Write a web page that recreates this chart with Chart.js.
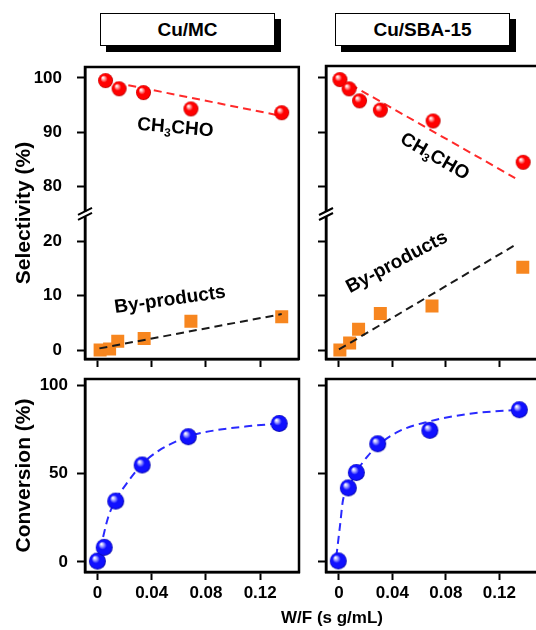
<!DOCTYPE html>
<html>
<head>
<meta charset="utf-8">
<script src="https://cdn.jsdelivr.net/npm/chart.js@4.4.1/dist/chart.umd.min.js"></script>
<style>
  html, body { margin: 0; padding: 0; width: 536px; height: 630px; overflow: hidden; background: #fff; }
  body { position: relative; font-family: Arial, "Liberation Sans", Helvetica, sans-serif; }
  canvas { position: absolute; }
  .tag {
    position: absolute; top: 13px; width: 173px; height: 31px;
    border: 1.5px solid #000; background: #fff; box-shadow: 6px 6px 0 #000;
    font-weight: bold; font-size: 19px; line-height: 31px; text-align: center;
  }
  #xtitle {
    position: absolute; left: 222px; top: 608px; width: 220px;
    font-weight: bold; font-size: 17px; line-height: 20px; text-align: center;
  }
</style>
</head>
<body>
<div class="tag" style="left:100px">Cu/MC</div>
<div class="tag" style="left:335px">Cu/SBA-15</div>

<canvas id="selMC" width="308" height="314" style="left:0px;top:57px;width:308px;height:314px"></canvas>
<canvas id="selSBA" width="240" height="315" style="left:314px;top:56px;width:240px;height:315px"></canvas>
<canvas id="convMC" width="308" height="239" style="left:0px;top:369px;width:308px;height:239px"></canvas>
<canvas id="convSBA" width="240" height="239" style="left:314px;top:369px;width:240px;height:239px"></canvas>

<div id="xtitle">W/F (s g/mL)</div>

<script>
Chart.defaults.font.family = 'Arial, "Liberation Sans", Helvetica, sans-serif';
Chart.defaults.color = '#000';

// axis ticks
const wfTicks = [0, 0.04, 0.08, 0.12];
const wfTickLabels = ['0', '0.04', '0.08', '0.12'];
const selTicks = [0, 10, 20, 80, 90, 100];
const convTicks = [0, 50, 100];

// Cu/MC (W/F in s g/mL, values in %)
const mcSelX = [0.006, 0.016, 0.034, 0.069, 0.136];
const mcAcetaldehyde = [99.5, 98.0, 97.3, 94.3, 93.6];
const mcByX = [0.002, 0.009, 0.015, 0.0345, 0.069, 0.136];
const mcByproducts = [0.0, 0.2, 1.6, 2.1, 5.3, 6.1];
const mcConvX = [0, 0.005, 0.0135, 0.033, 0.067, 0.134];
const mcConversion = [0.5, 8.3, 34.5, 55, 71, 78.5];

// Cu/MC dashed guide lines
const mcAcetFitX = [0.004, 0.136];
const mcAcetFit = [99.6, 93.0];
const mcByFitX = [0.0015, 0.136];
const mcByFit = [0.3, 6.6];
const mcConvFitX = [0.002, 0.008, 0.0135, 0.0225, 0.033, 0.045, 0.06, 0.068, 0.086, 0.112, 0.134];
const mcConvFit = [7, 25.5, 35, 45.5, 55.5, 63, 69, 71.5, 74.5, 77, 78.5];

// Cu/SBA-15
const sbaSelX = [0.0007, 0.0076, 0.0154, 0.031, 0.0705, 0.138];
const sbaAcetaldehyde = [99.7, 98.0, 95.8, 94.1, 92.1, 84.5];
const sbaByX = [0.0007, 0.008, 0.0147, 0.031, 0.0697, 0.1377];
const sbaByproducts = [0.0, 1.3, 3.8, 6.7, 8.1, 15.2];
const sbaConvX = [-0.0005, 0.007, 0.013, 0.029, 0.068, 0.135];
const sbaConversion = [0.6, 42, 50.7, 67, 74.6, 86.3];

// Cu/SBA-15 dashed guide lines
const sbaAcetFitX = [0, 0.132];
const sbaAcetFit = [100, 81.6];
const sbaByFitX = [0, 0.132];
const sbaByFit = [0.1, 19.3];
const sbaConvFitX = [-0.002, 0.0007, 0.003, 0.005, 0.009, 0.013, 0.0215, 0.029, 0.0447, 0.0667, 0.098, 0.135];
const sbaConvFit = [3, 20, 35, 39, 45, 51, 60, 66, 74, 79.5, 84, 86.3];

// broken selectivity axis: everything above the break is drawn 50 lower
const selBreak = 25;
const selShift = 50;
const fold = v => (v > selBreak ? v - selShift : v);

const tickFont = { size: 17, weight: 'bold' };
const titleFont = { size: 21, weight: 'bold' };

function sphere(r, light, base, dark) {
    const c = document.createElement('canvas');
    const s = Math.ceil(r * 2 + 2);
    c.width = c.height = s;
    const g = c.getContext('2d');
    const m = s / 2;
    const grad = g.createRadialGradient(m - r * 0.35, m - r * 0.4, r * 0.05, m, m, r);
    grad.addColorStop(0, '#ffffff');
    grad.addColorStop(0.2, light);
    grad.addColorStop(0.45, base);
    grad.addColorStop(0.85, base);
    grad.addColorStop(1, dark);
    g.fillStyle = grad;
    g.beginPath();
    g.arc(m, m, r, 0, Math.PI * 2);
    g.fill();
    return c;
}
const redBall = sphere(7.5, '#ff9a9a', '#ff0000', '#b00000');
const blueBall = sphere(8.5, '#a0a0ff', '#1010ff', '#0000a0');

const pairs = (xs, ys, folded) => xs.map((x, i) => ({ x: x, y: folded ? fold(ys[i]) : ys[i] }));

const ballSet = (xs, ys, img, folded) => ({
    data: pairs(xs, ys, folded), pointStyle: img, pointRadius: 8, showLine: false
});
const squareSet = (xs, ys) => ({
    data: pairs(xs, ys, false), pointStyle: 'rect', pointRadius: 9.2,
    backgroundColor: '#f7861f', borderColor: '#f7861f', borderWidth: 0, showLine: false
});
const dashSet = (xs, ys, color, folded, smooth) => ({
    data: pairs(xs, ys, folded), showLine: true, pointRadius: 0,
    borderColor: color, borderWidth: 2, borderDash: [8, 5],
    cubicInterpolationMode: smooth ? 'monotone' : 'default'
});

// box round the plot area, plus the // mark on a broken axis
const framePlugin = (breakAt) => ({
    id: 'frame',
    beforeDatasetsDraw(chart) {
        const { ctx, chartArea: a } = chart;
        ctx.save();
        ctx.strokeStyle = '#000';
        ctx.lineWidth = 2.5;
        ctx.strokeRect(a.left, a.top, a.right - a.left, a.bottom - a.top);
        if (breakAt !== undefined) {
            const by = chart.scales.y.getPixelForValue(breakAt);
            ctx.fillStyle = '#fff';
            ctx.fillRect(a.left - 3, by - 2.5, 6, 5);
            ctx.lineWidth = 2;
            [-2.5, 2.5].forEach(d => {
                ctx.beginPath();
                ctx.moveTo(a.left - 7, by + d + 3.5);
                ctx.lineTo(a.left + 7, by + d - 3.5);
                ctx.stroke();
            });
        }
        ctx.restore();
    }
});

// text labels inside the plots
const notesPlugin = (items) => ({
    id: 'notes',
    afterDatasetsDraw(chart) {
        const { ctx } = chart;
        items.forEach(it => {
            const px = chart.scales.x.getPixelForValue(it.x);
            const py = chart.scales.y.getPixelForValue(fold(it.y));
            ctx.save();
            ctx.translate(px, py);
            ctx.rotate(it.rot * Math.PI / 180);
            ctx.fillStyle = '#000';
            ctx.textBaseline = 'middle';
            ctx.textAlign = 'left';
            const parts = it.parts || [[it.text, false]];
            const big = 'bold 19px Arial, "Liberation Sans", sans-serif';
            const small = 'bold 12px Arial, "Liberation Sans", sans-serif';
            let w = 0;
            parts.forEach(p => { ctx.font = p[1] ? small : big; w += ctx.measureText(p[0]).width; });
            let cx = -w / 2;
            parts.forEach(p => {
                ctx.font = p[1] ? small : big;
                ctx.fillText(p[0], cx, p[1] ? 6 : 0);
                cx += ctx.measureText(p[0]).width;
            });
            ctx.restore();
        });
    }
});
const chem = [['CH', false], ['3', true], ['CHO', false]];

function wfScale(min, max, showLabels) {
    return {
        type: 'linear', position: 'bottom', min: min, max: max,
        afterBuildTicks: s => { s.ticks = wfTicks.map(v => ({ value: v })); },
        afterFit: s => {
            s.height = showLabels ? 34 : 10;
            s.paddingLeft = s.paddingRight = s.paddingTop = s.paddingBottom = 0;
        },
        ticks: {
            autoSkip: false, maxRotation: 0, minRotation: 0, padding: 3, font: tickFont, color: '#000',
            callback: (v, i) => (showLabels ? wfTickLabels[i] : '')
        },
        grid: { drawOnChartArea: false, drawTicks: true, tickLength: 8, tickWidth: 2, tickColor: '#000', color: '#000' },
        border: { display: true, color: '#000', width: 2.5 }
    };
}

function yScale(min, max, values, labels, width, pad, title) {
    return {
        type: 'linear', position: 'left', min: min, max: max,
        afterBuildTicks: s => { s.ticks = values.map(v => ({ value: v })); },
        afterFit: s => {
            s.width = width;
            s.paddingLeft = s.paddingRight = s.paddingTop = s.paddingBottom = 0;
        },
        ticks: {
            autoSkip: false, padding: pad, font: tickFont, color: '#000',
            callback: (v, i) => (labels ? labels[i] : '')
        },
        title: title ? { display: true, text: title, font: titleFont, color: '#000', padding: { top: 12, bottom: 0 } } : { display: false },
        grid: { drawOnChartArea: false, drawTicks: true, tickLength: 8, tickWidth: 2, tickColor: '#000', color: '#000' },
        border: { display: true, color: '#000', width: 2.5 }
    };
}

function options(pad, x, y) {
    return {
        responsive: false, animation: false, events: [],
        layout: { padding: pad },
        plugins: { legend: { display: false }, tooltip: { enabled: false } },
        scales: { x: x, y: y }
    };
}

const selValues = selTicks.map(fold);
const selLabels = selTicks.map(String);
const convLabels = convTicks.map(String);

// Cu/MC selectivity
new Chart(document.getElementById('selMC'), {
    type: 'scatter',
    data: { datasets: [
        ballSet(mcSelX, mcAcetaldehyde, redBall, true),
        dashSet(mcByFitX, mcByFit, '#1a1a1a', false, false),
        squareSet(mcByX, mcByproducts),
        dashSet(mcAcetFitX, mcAcetFit, '#ff2a2a', true, false)
    ] },
    options: options({ left: 0, top: 10, right: 4, bottom: 2 },
        wfScale(-0.00915, 0.1486, false),
        yScale(-1.65, 52, selValues, selLabels, 85, 15, 'Selectivity (%)')),
    plugins: [framePlugin(selBreak), notesPlugin([
        { parts: chem, x: 0.0575, y: 90.8, rot: 5 },
        { text: 'By-products', x: 0.0536, y: 9.2, rot: -8 }
    ])]
});

// Cu/SBA-15 selectivity
new Chart(document.getElementById('selSBA'), {
    type: 'scatter',
    data: { datasets: [
        ballSet(sbaSelX, sbaAcetaldehyde, redBall, true),
        dashSet(sbaByFitX, sbaByFit, '#1a1a1a', false, false),
        squareSet(sbaByX, sbaByproducts),
        dashSet(sbaAcetFitX, sbaAcetFit, '#ff2a2a', true, false)
    ] },
    options: options({ left: 2, top: 10, right: 4, bottom: 2 },
        wfScale(-0.0097, 0.1542, false),
        yScale(-1.65, 52.2, selValues, null, 10, 3, null)),
    plugins: [framePlugin(selBreak), notesPlugin([
        { parts: chem, x: 0.0717, y: 85.5, rot: 30 },
        { text: 'By-products', x: 0.0434, y: 16.1, rot: -28 }
    ])]
});

// Cu/MC conversion
new Chart(document.getElementById('convMC'), {
    type: 'scatter',
    data: { datasets: [
        ballSet(mcConvX, mcConversion, blueBall, false),
        dashSet(mcConvFitX, mcConvFit, '#2a2aff', false, true)
    ] },
    options: options({ left: 0, top: 10, right: 4, bottom: 2 },
        wfScale(-0.00915, 0.1486, true),
        yScale(-5.67, 103.7, convTicks, convLabels, 85, 9, 'Conversion (%)')),
    plugins: [framePlugin()]
});

// Cu/SBA-15 conversion
new Chart(document.getElementById('convSBA'), {
    type: 'scatter',
    data: { datasets: [
        ballSet(sbaConvX, sbaConversion, blueBall, false),
        dashSet(sbaConvFitX, sbaConvFit, '#2a2aff', false, true)
    ] },
    options: options({ left: 2, top: 10, right: 4, bottom: 2 },
        wfScale(-0.0097, 0.1542, true),
        yScale(-5.67, 103.7, convTicks, null, 10, 3, null)),
    plugins: [framePlugin()]
});
</script>
</body>
</html>
